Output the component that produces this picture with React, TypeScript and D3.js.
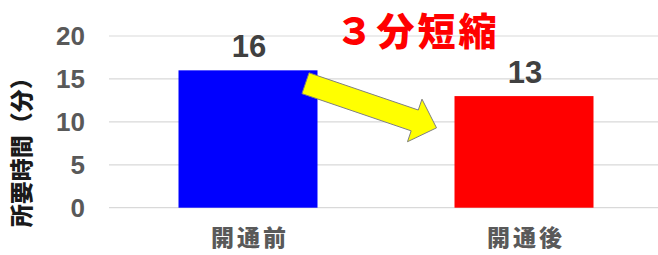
import React from "react";
import * as d3 from "d3";

const categories = ["開通前", "開通後"];
const values = [16, 13];
const barColors = ["#0000ff", "#ff0000"];
const yTicks = [0, 5, 10, 15, 20];
const yTitle = "所要時間（分）";
const annotation = "３分短縮";
// arrow annotation anchors in data units
const arrowFromValue = 14.5;
const arrowToValue = 9.3;

const W = 658;
const H = 255;

export default function App() {
  const x = d3
    .scaleBand<string>()
    .domain(categories)
    .range([110, 662])
    .paddingInner(0.4964)
    .paddingOuter(0.2482);
  const y = d3.scaleLinear().domain([0, 20]).range([207.7, 36]);

  const latin = "'Liberation Sans', Arial, sans-serif";
  const cjk = "'Noto Sans CJK JP', 'Noto Sans CJK SC', sans-serif";

  // arrow geometry
  const S: [number, number] = [(x(categories[0]) as number) + x.bandwidth() - 12, y(arrowFromValue)];
  const E: [number, number] = [(x(categories[1]) as number) - 18, y(arrowToValue)];
  const dx = E[0] - S[0];
  const dy = E[1] - S[1];
  const len = Math.hypot(dx, dy);
  const u = [dx / len, dy / len];
  const n = [u[1], -u[0]];
  const hw = 11, hh = 22.5, hl = 23;
  const B = [E[0] - u[0] * hl, E[1] - u[1] * hl];
  const pts = [
    [S[0] + n[0] * hw, S[1] + n[1] * hw],
    [B[0] + n[0] * hw, B[1] + n[1] * hw],
    [B[0] + n[0] * hh, B[1] + n[1] * hh],
    E,
    [B[0] - n[0] * hh, B[1] - n[1] * hh],
    [B[0] - n[0] * hw, B[1] - n[1] * hw],
    [S[0] - n[0] * hw, S[1] - n[1] * hw],
  ];
  const arrowPath = d3.line()(pts as [number, number][]) + "Z";

  return (
    <svg
      width={W}
      height={H}
      style={{ position: "absolute", left: 0, top: 0, display: "block", background: "#fff" }}
    >
      {yTicks.map((t) => (
        <g key={t}>
          <line x1={109} x2={658} y1={y(t)} y2={y(t)} stroke="#d9d9d9" strokeWidth={1.2} />
          <text
            x={85}
            y={y(t)}
            dy="0.36em"
            textAnchor="end"
            fontFamily={latin}
            fontWeight="bold"
            fontSize={26}
            fill="#595959"
          >
            {t}
          </text>
        </g>
      ))}
      {categories.map((c, i) => (
        <g key={c}>
          <rect
            x={x(c)}
            y={y(values[i])}
            width={x.bandwidth()}
            height={y(0) - y(values[i])}
            fill={barColors[i]}
          />
          <text
            x={(x(c) as number) + x.bandwidth() / 2 + 1}
            y={y(values[i]) - 13}
            textAnchor="middle"
            fontFamily={latin}
            fontWeight="bold"
            fontSize={31}
            fill="#404040"
          >
            {values[i]}
          </text>
          <text
            x={(x(c) as number) + x.bandwidth() / 2 + 2}
            y={238}
            dy="0.36em"
            textAnchor="middle"
            fontFamily={cjk}
            fontWeight={900}
            fontSize={23}
            letterSpacing={3}
            fill="#595959"
          >
            {c}
          </text>
        </g>
      ))}
      <path d={arrowPath} fill="#ffff00" stroke="#7f7f7f" strokeWidth={1} />
      <text
        transform={`translate(21.5,146.7) rotate(-90)`}
        textAnchor="middle"
        dy="0.36em"
        fontFamily={cjk}
        fontWeight={900}
        fontSize={23}
        fill="#1a1a1a"
      >
        {yTitle}
      </text>
      <text
        x={417.5}
        y={31.7}
        dy="0.36em"
        textAnchor="middle"
        fontFamily={cjk}
        fontWeight={900}
        fontSize={38}
        letterSpacing={3}
        fill="#ff0000"
      >
        {annotation}
      </text>
    </svg>
  );
}
